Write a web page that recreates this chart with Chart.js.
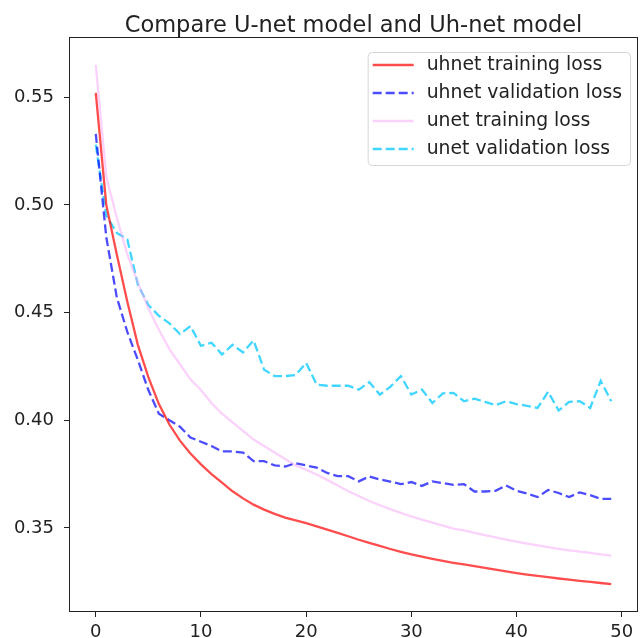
<!DOCTYPE html>
<html>
<head>
<meta charset="utf-8">
<script src="https://cdn.jsdelivr.net/npm/chart.js@4.4.1/dist/chart.umd.min.js"></script>
<style>
  html, body { margin: 0; padding: 0; background: #fff; }
  #wrap { width: 642px; height: 638px; }
</style>
</head>
<body>
<div id="wrap"><canvas id="chart" width="642" height="638"></canvas></div>
<script>
const TITLE = 'Compare U-net model and Uh-net model';

const epochs = [0, 1, 2, 3, 4, 5, 6, 7, 8, 9, 10, 11, 12, 13, 14, 15, 16, 17, 18, 19,
  20, 21, 22, 23, 24, 25, 26, 27, 28, 29, 30, 31, 32, 33, 34, 35, 36, 37, 38, 39,
  40, 41, 42, 43, 44, 45, 46, 47, 48, 49];

const uhnetTrain = [0.552, 0.500, 0.477, 0.455, 0.435, 0.420, 0.4075, 0.398, 0.3905, 0.3845,
  0.3795, 0.375, 0.371, 0.367, 0.3637, 0.3608, 0.3585, 0.3565, 0.3548, 0.3535,
  0.3522, 0.3507, 0.3492, 0.3477, 0.3461, 0.3445, 0.343, 0.3416, 0.3402, 0.3389,
  0.3377, 0.3366, 0.3356, 0.3347, 0.3338, 0.333, 0.3322, 0.3314, 0.3306, 0.3298,
  0.3290, 0.3283, 0.3277, 0.3271, 0.3265, 0.326, 0.3254, 0.3249, 0.3244, 0.3239];

const uhnetVal = [0.533, 0.485, 0.457, 0.441, 0.428, 0.414, 0.403, 0.400, 0.397, 0.392,
  0.390, 0.388, 0.3855, 0.3855, 0.385, 0.381, 0.381, 0.379, 0.3785, 0.380,
  0.379, 0.378, 0.3755, 0.374, 0.374, 0.3716, 0.3739, 0.3725, 0.3715, 0.3703,
  0.3713, 0.3695, 0.3716, 0.3708, 0.370, 0.3703, 0.3669, 0.3669, 0.3672, 0.3697,
  0.3672, 0.366, 0.3643, 0.3676, 0.3662, 0.3643, 0.3665, 0.3652, 0.3635, 0.3635];

const unetTrain = [0.565, 0.513, 0.494, 0.477, 0.464, 0.452, 0.442, 0.433, 0.426, 0.419,
  0.414, 0.408, 0.403, 0.399, 0.395, 0.391, 0.388, 0.385, 0.382, 0.379,
  0.377, 0.3748, 0.3723, 0.3697, 0.367, 0.3648, 0.3625, 0.3605, 0.3587, 0.357,
  0.3553, 0.3538, 0.3524, 0.351, 0.3497, 0.3488, 0.3477, 0.3466, 0.3456, 0.3446,
  0.3436, 0.3427, 0.3419, 0.3411, 0.3403, 0.3396, 0.339, 0.3384, 0.3377, 0.3371];

const unetVal = [0.528, 0.495, 0.487, 0.484, 0.463, 0.4535, 0.4485, 0.445, 0.440, 0.4437,
  0.4345, 0.436, 0.4305, 0.435, 0.4315, 0.437, 0.4235, 0.4205, 0.4205, 0.421,
  0.4266, 0.4165, 0.416, 0.416, 0.416, 0.4142, 0.4177, 0.4119, 0.4155, 0.4205,
  0.4119, 0.4143, 0.408, 0.4125, 0.4127, 0.4088, 0.410, 0.4085, 0.407, 0.4088,
  0.4075, 0.4067, 0.4057, 0.4132, 0.4045, 0.4085, 0.4088, 0.4057, 0.4183, 0.4088];

const xTicks = [0, 10, 20, 30, 40, 50];
const yTicks = [0.35, 0.40, 0.45, 0.50, 0.55];

const FONT = 'DejaVu Sans';
const INK = '#222';

const series = [
  { label: 'uhnet training loss',   data: uhnetTrain, color: 'rgba(255, 0, 0, 0.7)',      dash: [] },
  { label: 'uhnet validation loss', data: uhnetVal,   color: 'rgba(0, 0, 255, 0.7)',      dash: [9, 4] },
  { label: 'unet training loss',    data: unetTrain,  color: 'rgba(248, 165, 248, 0.5)', dash: [] },
  { label: 'unet validation loss',  data: unetVal,    color: 'rgba(0, 200, 255, 0.75)',   dash: [9, 4] },
];

// title centred over the plot area, like matplotlib
const titlePlugin = {
  id: 'axTitle',
  afterDraw(chart) {
    const { ctx, chartArea } = chart;
    ctx.save();
    ctx.font = `22.5px "${FONT}"`;
    ctx.fillStyle = INK;
    ctx.textAlign = 'center';
    ctx.textBaseline = 'middle';
    ctx.fillText(TITLE, (chartArea.left + chartArea.right) / 2, 26);
    ctx.restore();
  }
};

// box around the axes
const framePlugin = {
  id: 'frame',
  afterDraw(chart) {
    const { ctx, chartArea: a } = chart;
    ctx.save();
    ctx.strokeStyle = INK;
    ctx.lineWidth = 1;
    ctx.strokeRect(Math.round(a.left) - 0.5, Math.round(a.top) - 0.5,
      Math.round(a.right - a.left) + 1, Math.round(a.bottom - a.top) + 1);
    ctx.restore();
  }
};

// legend inside the upper right corner
const legendPlugin = {
  id: 'innerLegend',
  afterDraw(chart) {
    const { ctx, chartArea: a } = chart;
    const sets = chart.data.datasets;
    ctx.save();
    ctx.font = `18.8px "${FONT}"`;
    const textW = Math.max(...sets.map(d => ctx.measureText(d.label).width));
    const w = 59 + textW + 8;
    const h = 113;
    const right = a.right - 7;
    const top = a.top + 14;
    const left = right - w;

    ctx.beginPath();
    ctx.roundRect(left + 0.5, top + 0.5, w, h, 4);
    ctx.fillStyle = 'rgba(255,255,255,0.8)';
    ctx.fill();
    ctx.strokeStyle = '#d6d6d6';
    ctx.lineWidth = 1;
    ctx.stroke();

    sets.forEach((d, i) => {
      const y = top + 13 + i * 28;
      ctx.beginPath();
      ctx.setLineDash(d.borderDash || []);
      ctx.strokeStyle = d.borderColor;
      ctx.lineWidth = d.borderWidth;
      ctx.moveTo(left + 5, y);
      ctx.lineTo(left + 46, y);
      ctx.stroke();
      ctx.setLineDash([]);
      ctx.fillStyle = INK;
      ctx.textAlign = 'left';
      ctx.textBaseline = 'middle';
      ctx.fillText(d.label, left + 59, y);
    });
    ctx.restore();
  }
};

function axisOpts(extra) {
  return Object.assign({
    type: 'linear',
    grid: { display: true, drawOnChartArea: false, drawTicks: true, tickLength: 6, tickColor: INK, tickWidth: 1 },
    border: { display: false },
  }, extra);
}

new Chart(document.getElementById('chart'), {
  type: 'line',
  data: {
    datasets: series.map(s => ({
      label: s.label,
      data: s.data.map((v, i) => ({ x: epochs[i], y: v })),
      borderColor: s.color,
      backgroundColor: s.color,
      borderWidth: 2.3,
      borderDash: s.dash,
      pointRadius: 0,
      tension: 0,
      fill: false,
    }))
  },
  options: {
    responsive: false,
    animation: false,
    layout: { padding: { top: 38, right: 5, left: 0, bottom: 0 } },
    plugins: {
      legend: { display: false },
      title: { display: false },
      tooltip: { enabled: false },
    },
    scales: {
      x: axisOpts({
        min: -2.45,
        max: 51.45,
        afterBuildTicks: s => { s.ticks = xTicks.map(v => ({ value: v })); },
        afterFit: s => { s.height = 27; },
        ticks: { color: INK, font: { family: FONT, size: 18 }, padding: 5, maxRotation: 0, autoSkip: false,
                 callback: v => String(v) },
      }),
      y: axisOpts({
        min: 0.3114,
        max: 0.5775,
        afterBuildTicks: s => { s.ticks = yTicks.map(v => ({ value: v })); },
        afterFit: s => { s.width = 70; },
        ticks: { color: INK, font: { family: FONT, size: 18 }, padding: 10, autoSkip: false,
                 callback: v => Number(v).toFixed(2) },
      }),
    }
  },
  plugins: [titlePlugin, framePlugin, legendPlugin]
});
</script>
</body>
</html>
